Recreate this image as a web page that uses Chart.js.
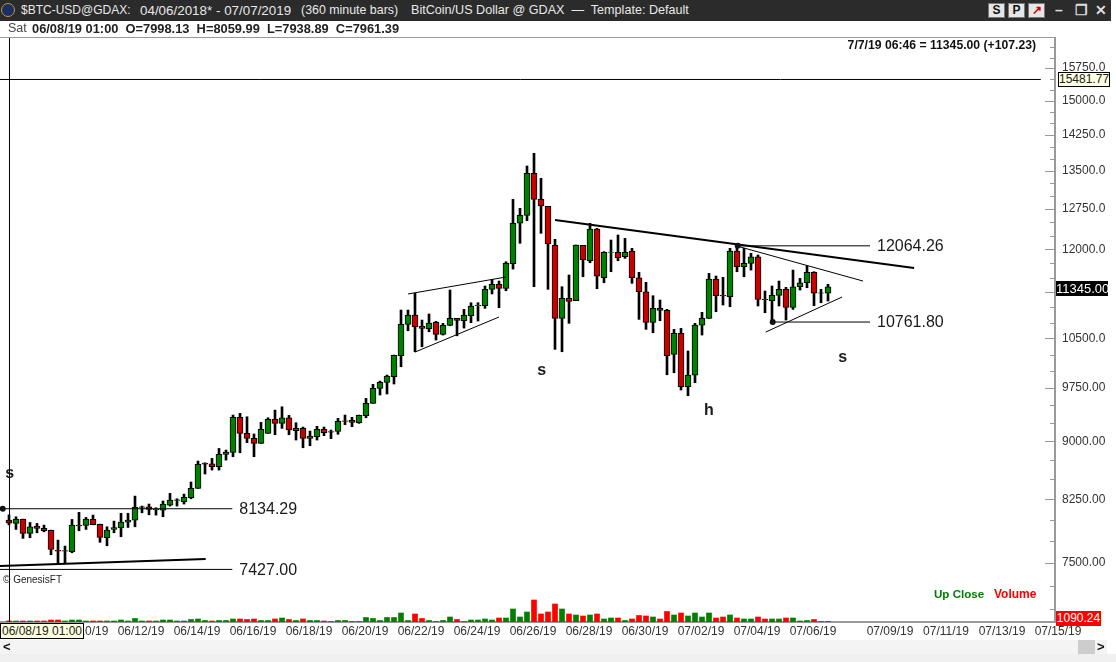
<!DOCTYPE html>
<html>
<head>
<meta charset="utf-8">
<title>BTC-USD GDAX</title>
<script src="https://cdn.jsdelivr.net/npm/chart.js@4/dist/chart.umd.min.js"></script>
<style>
  html, body { margin: 0; padding: 0; background: #fff; overflow: hidden; }
  #wrap { position: relative; width: 1116px; height: 662px; font-family: "Liberation Sans", Arial, sans-serif; color: #222; }
  #wrap div { position: absolute; white-space: pre; }
  canvas { position: absolute; left: 0; top: 0; }
  #titlebar { left: 0; top: 0; width: 1111px; height: 21px; background: #2b2b2b; }
  .title { top: 3px; font-size: 12.6px; line-height: 15px; color: #e8e8e8; }
  #logo { left: 1px; top: 3px; width: 14px; height: 14px; border-radius: 50%; background: #1c2f63; border: 1px solid #b89a3c; box-sizing: border-box; }
  .btn { top: 3px; width: 17px; height: 15px; background: #e6e6e6; border: 1px solid #777; box-sizing: border-box; color: #111; font-size: 12px; font-weight: bold; line-height: 13px; text-align: center; }
  .win { top: 3px; color: #ddd; font-size: 14px; font-weight: bold; line-height: 15px; }
  #info { left: 32px; top: 21px; font-size: 12.85px; line-height: 15px; font-weight: bold; color: #222; }
  #sat { left: 8px; top: 21px; font-size: 12.5px; line-height: 15px; color: #444; }
  #topline { left: 0; top: 37px; width: 1056px; height: 1px; background: #999; }
  #lastquote { right: 80px; top: 38px; font-size: 12.2px; line-height: 14px; font-weight: bold; color: #111; }
  #upclose { left: 934px; top: 587px; font-size: 11.6px; line-height: 14px; font-weight: bold; color: #008000; }
  #volword { left: 994px; top: 587px; font-size: 12px; line-height: 14px; font-weight: bold; color: #ff0000; }
  #genesis { left: 3px; top: 574px; font-size: 10px; line-height: 12px; color: #222; }
  .box { background: #ffffe1; border: 1px solid #000; box-sizing: border-box; font-size: 12px; color: #222; text-align: center; }
  #crossprice { left: 1058px; top: 72px; width: 52px; height: 15px; line-height: 13px; }
  #lastprice { left: 1056px; top: 281px; width: 52px; height: 15px; background: #000; color: #fff; font-size: 13px; line-height: 15px; text-align: center; }
  #crossdate { left: 0; top: 623px; width: 84px; height: 16px; line-height: 14px; border-width: 1px; }
  #crossvol { left: 1056px; top: 611px; width: 45px; height: 15px; background: #ff0000; color: #fff; font-size: 12px; line-height: 15px; text-align: center; }
  #scroll { left: 0; top: 640px; width: 1107px; height: 14px; background: #f4f4f4; }
  #scrollleft { left: 3px; top: 640px; font-size: 13px; line-height: 14px; font-weight: bold; color: #111; }
  #thumb { left: 1078px; top: 640px; width: 17px; height: 14px; background: #cdcdcd; }
  #scrollright { left: 1097px; top: 640px; font-size: 13px; line-height: 14px; font-weight: bold; color: #111; }
  #foot { left: 0; top: 654px; width: 1116px; height: 8px; background: #f0f0f0; }
</style>
</head>
<body>
<div id="wrap">
  <canvas id="chart" width="1116" height="662"></canvas>
  <div id="titlebar"></div>
  <div id="logo"></div>
  <div class="title" style="left:21px;font-size:12px">$BTC-USD@GDAX:</div>
  <div class="title" style="left:140px;font-size:13.4px">04/06/2018* - 07/07/2019</div>
  <div class="title" style="left:301px;font-size:12.4px">(360 minute bars)</div>
  <div class="title" style="left:411px">BitCoin/US Dollar @ GDAX  —  Template: Default</div>
  <div class="btn" style="left:988px">S</div>
  <div class="btn" style="left:1008px">P</div>
  <div class="btn" style="left:1028px;color:#c00">↗</div>
  <div class="win" style="left:1055px">–</div>
  <div class="win" style="left:1075px">❐</div>
  <div class="win" style="left:1095px">✕</div>
  <div id="sat">Sat</div>
  <div id="info">06/08/19 01:00  O=7998.13  H=8059.99  L=7938.89  C=7961.39</div>
  <div id="topline"></div>
  <div id="lastquote">7/7/19 06:46 = 11345.00 (+107.23)</div>
  <div id="upclose">Up Close</div>
  <div id="volword">Volume</div>
  <div id="genesis">© GenesisFT</div>
  <div id="crossprice" class="box">15481.77</div>
  <div id="lastprice">11345.00</div>
  <div id="crossdate" class="box">06/08/19 01:00</div>
  <div id="crossvol">1090.24</div>
  <div id="scroll"></div>
  <div id="scrollleft">&lt;</div>
  <div id="thumb"></div>
  <div id="scrollright">&gt;</div>
  <div id="foot"></div>
</div>
<script>
// 360 minute bars
const opens = [7998,7957,8005,7839,7925,7898,7874,7642,7632,7627,7928,7933,8005,7945,7788,7886,7905,7973,7997,8150,
  8158,8120,8118,8179,8236,8220,8269,8386,8698,8702,8663,8825,8852,9328,9108,9040,8972,9108,9301,9245,
  9323,9143,9176,9040,9062,9163,9125,9135,9272,9287,9254,9351,9527,9744,9831,9914,10232,10725,10876,10692,
  10654,10757,10565,10709,10821,10783,10865,11030,11030,11303,11388,11320,11745,12479,12629,13450,12935,12800,12073,10821,
  11151,11111,12073,11798,12372,11504,11944,11948,11868,11971,11500,11262,10757,10985,10952,10253,10581,9767,9939,10713,
  10821,11478,11200,11179,11971,11692,11752,11868,11135,11111,11202,11303,11002,11347,11415,11594,11236,11238];
const highs = [8060,8037,8009,7969,7957,7937,7878,7761,7692,8005,8090,8029,8057,7949,7917,7985,8079,8079,8290,8167,
  8192,8146,8229,8324,8257,8315,8467,8737,8715,8772,8904,8882,9361,9385,9337,9099,9259,9323,9431,9478,
  9357,9254,9194,9139,9204,9194,9153,9315,9361,9329,9361,9598,9802,9850,9939,10242,10957,10957,11236,10794,
  10892,10773,10741,11291,10821,10968,11078,11078,11359,11473,11444,11780,12935,12762,13598,13860,13349,12800,12183,11347,
  11548,12080,12073,12479,12385,11960,12170,12262,12200,12019,11594,11422,11195,11123,10968,10644,10660,10304,10741,10920,
  11577,11530,11507,12019,12110,12019,11930,11900,11274,11359,11444,11337,11634,11490,11709,11605,11303,11388];
const lows = [7939,7886,7781,7788,7846,7858,7592,7495,7495,7615,7870,7886,7941,7735,7695,7846,7800,7909,7917,8085,
  8061,8057,8037,8167,8167,8192,8257,8386,8569,8620,8620,8750,8794,8846,8981,8794,8972,9108,9089,9176,
  9089,9017,8913,8940,9017,9076,9035,9095,9226,9199,9245,9323,9527,9646,9661,9807,10064,10622,10293,10370,
  10606,10475,10554,10702,10542,10665,10751,10778,10985,11224,10995,11279,11651,12110,12527,11347,12293,11303,10330,10293,
  10741,11111,11518,11762,11313,11415,11605,11798,11840,11405,10805,10644,10590,10783,9944,9974,9719,9636,9826,10554,
  10821,10929,11040,11012,11605,11518,11634,11024,10913,10741,11024,10794,10968,11291,11330,11029,11078,11106];
const closes = [7961,8009,7839,7917,7898,7870,7654,7634,7640,7937,7936,8009,7941,7792,7878,7909,7973,7997,8151,8158,
  8126,8128,8192,8241,8243,8274,8386,8694,8706,8663,8825,8856,9328,9108,9040,8972,9163,9301,9245,9323,
  9153,9176,9040,9071,9163,9116,9133,9273,9280,9259,9357,9527,9744,9831,9925,10238,10725,10876,10685,10660,
  10746,10565,10709,10821,10789,10876,11024,11036,11303,11388,11320,11752,12479,12629,13450,12935,12807,12098,10821,11151,
  11101,12080,11810,12372,11530,11948,11952,11851,11948,11500,11262,10757,10985,10952,10232,10581,9767,9939,10713,10821,
  11478,11196,11192,11971,11692,11752,11868,11135,11127,11202,11303,11002,11347,11415,11594,11236,11244,11345];
const volumes = [1090,1000,1000,1000,1000,1000,2000,2000,1000,2000,2000,1000,1000,1000,1000,1000,2000,1000,3500,1000,
  1000,1000,2000,2000,1000,1000,2500,3000,1500,1000,1500,1500,3000,3000,2500,3000,1500,1500,3000,4000,
  2500,1500,3000,1500,1500,1000,500,1500,1500,500,500,4500,3500,1500,4500,4500,9000,1500,8000,3500,
  1500,500,1500,5000,2500,500,2000,2000,3000,2000,4000,4000,13000,5000,10000,22000,8000,10000,18000,13000,
  8000,7000,6000,7000,8000,3000,4000,4000,1500,3000,6500,6000,5000,3000,10500,7000,9000,6000,9000,5000,
  9000,4000,5000,7000,4000,3000,3000,5000,3000,3000,3000,4000,4000,1000,1500,2500,500,500];

// date axis: bar index of each printed date
const dateTicks = [11,19,27,35,43,51,59,67,75,83,91,99,107,115,126,134,142,150];
const dateLabels = ['06/10/19','06/12/19','06/14/19','06/16/19','06/18/19','06/20/19','06/22/19','06/24/19','06/26/19','06/28/19',
  '06/30/19','07/02/19','07/04/19','07/06/19','07/09/19','07/11/19','07/13/19','07/15/19'];

const priceStep = 250;
const priceLabelStep = 750;
const priceMin = 6864, priceMax = 16475;

// drawn trendlines, as [barA, priceA, barB, priceB, width]
const trendLines = [
  [-1.3, 7465, 28.1, 7543, 2],
  [57, 11224, 71, 11513, 1],
  [58, 10288, 70, 10843, 1],
  [78, 12540, 129.3, 11669, 2],
  [104, 12060, 122, 11444, 1],
  [108.1, 10601, 119, 11173, 1]
];
// horizontal levels with a printed value, as [barA, barB, price]
const levelLines = [
  [-0.9, 31.9, 8134.29],
  [-1.3, 31.9, 7427.00],
  [104.1, 123, 12064.26],
  [109.1, 123, 10761.80]
];
const pivots = [[-0.9, 8134.29], [104.1, 12064.26], [109.1, 10761.80]];
const crossBar = 0.07;
const crossPrice = 15481.77;
const crossEndBar = 147.4;
const letters = [['s', 0.1, 8569], ['s', 76.1, 9999], ['h', 100, 9417], ['s', 119.1, 10196]];

const bars = opens.map((o, i) => i);
const isUp = i => closes[i] >= opens[i];

function lineSet(pts, width) {
  return { type: 'line', data: pts, borderColor: '#000', borderWidth: width, pointRadius: 0, tension: 0, order: 0 };
}

const datasets = [
  { type: 'bar', label: 'Volume', yAxisID: 'yVol', data: bars.map(i => ({ x: i, y: volumes[i] })),
    backgroundColor: bars.map(i => isUp(i) ? '#008000' : '#ff0000'), barThickness: 5, grouped: false, order: 4 },
  { type: 'bar', label: 'Range', data: bars.map(i => ({ x: i, y: [lows[i], highs[i]] })),
    backgroundColor: '#000', barThickness: 2, grouped: false, order: 3 },
  { type: 'bar', label: 'Body', data: bars.map(i => ({ x: i, y: [Math.min(opens[i], closes[i]), Math.max(opens[i], closes[i])] })),
    backgroundColor: bars.map(i => isUp(i) ? '#008000' : '#c80000'), borderColor: '#000', borderWidth: 1,
    borderSkipped: false, barThickness: 6, grouped: false, order: 2 },
  { type: 'line', label: 'Pivots', data: pivots.map(p => ({ x: p[0], y: p[1] })), showLine: false,
    pointRadius: 3, pointBackgroundColor: '#111', pointBorderWidth: 0, order: 0 },
  lineSet([{ x: crossBar, y: priceMin }, { x: crossBar, y: priceMax }], 1),
  lineSet([{ x: -1.3, y: crossPrice }, { x: crossEndBar, y: crossPrice }], 1)
];
trendLines.forEach(t => datasets.push(lineSet([{ x: t[0], y: t[1] }, { x: t[2], y: t[3] }], t[4])));
levelLines.forEach(l => datasets.push(lineSet([{ x: l[0], y: l[2] }, { x: l[1], y: l[2] }], 1)));

// price axis tick marks point into the plot, and the printed levels and letters sit on the scales
const marksPlugin = {
  id: 'marks',
  afterDraw(chart) {
    const ctx = chart.ctx, xs = chart.scales.x, ys = chart.scales.y, right = chart.chartArea.right;
    ctx.save();
    ctx.strokeStyle = '#999';
    ctx.lineWidth = 1;
    ys.ticks.forEach(t => {
      const py = Math.round(ys.getPixelForValue(t.value)) + 0.5;
      const len = t.value % priceLabelStep === 0 ? 10 : 5;
      ctx.beginPath();
      ctx.moveTo(right - len, py);
      ctx.lineTo(right, py);
      ctx.stroke();
    });
    ctx.fillStyle = '#1a1a1a';
    ctx.font = '16px "Liberation Sans", Arial, sans-serif';
    ctx.textBaseline = 'middle';
    levelLines.forEach(l => {
      ctx.fillText(l[2].toFixed(2), xs.getPixelForValue(l[1]) + 7, ys.getPixelForValue(l[2]) + 1);
    });
    ctx.font = 'bold 16px "Liberation Sans", Arial, sans-serif';
    ctx.textAlign = 'center';
    letters.forEach(n => ctx.fillText(n[0], xs.getPixelForValue(n[1]), ys.getPixelForValue(n[2])));
    ctx.restore();
  }
};

new Chart(document.getElementById('chart'), {
  data: { datasets },
  plugins: [marksPlugin],
  options: {
    responsive: false,
    animation: false,
    layout: { autoPadding: false, padding: { top: 38, left: 0, right: 0, bottom: 0 } },
    plugins: { legend: { display: false }, tooltip: { enabled: false } },
    scales: {
      x: {
        type: 'linear',
        offset: false,
        min: -9 / 7,
        max: 1046 / 7,
        grid: { display: false, drawTicks: false },
        border: { color: '#999', width: 2 },
        afterBuildTicks: s => { s.ticks = dateTicks.map(v => ({ value: v })); },
        afterFit: s => { s.height = 40; },
        ticks: {
          autoSkip: false, maxRotation: 0, padding: 2, labelOffset: -1,
          color: '#333', font: { family: '"Liberation Sans", Arial, sans-serif', size: 12 },
          callback: v => dateLabels[dateTicks.indexOf(v)]
        }
      },
      y: {
        type: 'logarithmic',
        position: 'right',
        min: priceMin,
        max: priceMax,
        grid: { display: false, drawTicks: false },
        border: { color: '#999', width: 2 },
        afterBuildTicks: s => {
          const list = [];
          for (let v = 7000; v < priceMax; v += priceStep) list.push({ value: v });
          s.ticks = list;
        },
        afterFit: s => { s.width = 61; s.paddingTop = 0; s.paddingBottom = 0; },
        ticks: {
          autoSkip: false, padding: 7, color: '#333',
          font: { family: '"Liberation Sans", Arial, sans-serif', size: 12 },
          callback: v => v % priceLabelStep === 0 ? v.toFixed(2).slice(0, 7) : ''
        }
      },
      yVol: { type: 'linear', display: false, min: 0, max: 584000 }
    }
  }
});
</script>
</body>
</html>
